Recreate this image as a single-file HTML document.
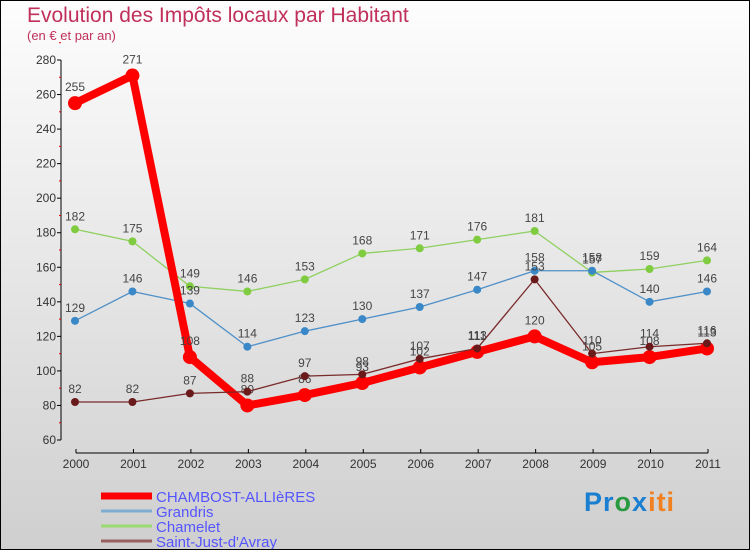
<!DOCTYPE html>
<html><head><meta charset="utf-8"><style>
body{margin:0}
#c{width:748px;height:548px;border:1px solid #000;background:linear-gradient(#fdfdfd,#cfcfcf);position:relative;font-family:"Liberation Sans",sans-serif;overflow:hidden}
.t{position:absolute;white-space:nowrap}
</style></head><body>
<div id="c">
<div class="t" style="left:26px;top:3px;font-size:21px;color:#c0305a">Evolution des Impôts locaux par Habitant</div>
<div class="t" style="left:26px;top:27px;font-size:13px;color:#c0305a">(en € et par an)</div>
<svg id="s" width="748" height="548" style="position:absolute;left:0;top:0"></svg>
<div class="t" style="left:583px;top:486px;font-size:27px;font-weight:bold;letter-spacing:1px"><span style="color:#1a7fd0">Pr</span><span style="color:#2a9a40">o</span><span style="color:#1a7fd0">x</span><span style="color:#f08020">iti</span></div>
</div>
<script>
const years=[2000,2001,2002,2003,2004,2005,2006,2007,2008,2009,2010,2011];
const yTicks=[60,80,100,120,140,160,180,200,220,240,260,280];
const chambost=[255,271,108,80,86,93,102,111,120,105,108,113];
const grandris=[129,146,139,114,123,130,137,147,158,158,140,146];
const chamelet=[182,175,149,146,153,168,171,176,181,157,159,164];
const saintJust=[82,82,87,88,97,98,107,113,153,110,114,116];
const NS="http://www.w3.org/2000/svg",s=document.getElementById('s');
const x=i=>74+i*(632/11), y=v=>439-(v-60)*(380/220);
function el(t,a,p){const e=document.createElementNS(NS,t);for(const k in a)e.setAttribute(k,a[k]);(p||s).appendChild(e);return e;}
let ax=el('line',{x1:60,y1:y(280),x2:60,y2:y(60),stroke:'#000'});


yTicks.forEach(v=>{el('line',{x1:56,x2:60,y1:y(v),y2:y(v),stroke:'#000'});
 el('line',{x1:58,x2:60,y1:y(v+10),y2:y(v+10),stroke:'#d00'});
 const t=el('text',{x:55,y:y(v)+4,'text-anchor':'end','font-size':12,fill:'#333'});t.textContent=v;
 
 });
let xa=el('line',{x1:75,y1:452,x2:707,y2:452,stroke:'#000'});


years.forEach((yr,i)=>{el('line',{x1:x(i)+1,x2:x(i)+1,y1:448,y2:452,stroke:'#000'});
 const t=el('text',{x:x(i)+1,y:467,'text-anchor':'middle','font-size':12,fill:'#333'});t.textContent=yr;
 
 });
function series(d,col,w,r,name,fill){
 const g=el('g',{});
 
 
 el('polyline',{points:d.map((v,i)=>x(i)+','+y(v)).join(' '),fill:'none',stroke:col,'stroke-width':w,'stroke-linejoin':'round'},g);
 d.forEach((v,i)=>{const c=el('circle',{cx:x(i),cy:y(v),r:r,fill:fill||col},g);
  
  
  const t=el('text',{x:x(i),y:y(v)-r-5,'text-anchor':'middle','font-size':12,fill:'#444'},g);t.textContent=v;});
}
series(chamelet,'#8fd060',1.3,4,'series-chamelet','#80cc40');
series(grandris,'#4f90c8',1.3,4,'series-grandris','#3a88c8');
series(chambost,'#f00',8,7,'series-chambost');
series(saintJust,'#7a2a2a',1.3,4,'series-saint-just','#6a1a1a');
const leg=[['CHAMBOST-ALLIèRES','#f00',7],['Grandris','#80aed0',3],['Chamelet','#9ad870',3],['Saint-Just-d\'Avray','#9a6060',3]];
leg.forEach((l,i)=>{const yy=495+i*15;
 const g=el('g',{});
 
 
 el('line',{x1:100,x2:151,y1:yy,y2:yy,stroke:l[1],'stroke-width':l[2]},g);
 const t=el('text',{x:155,y:yy+6,'font-size':15,fill:'#55f'},g);t.textContent=l[0];});
</script>
</body></html>
